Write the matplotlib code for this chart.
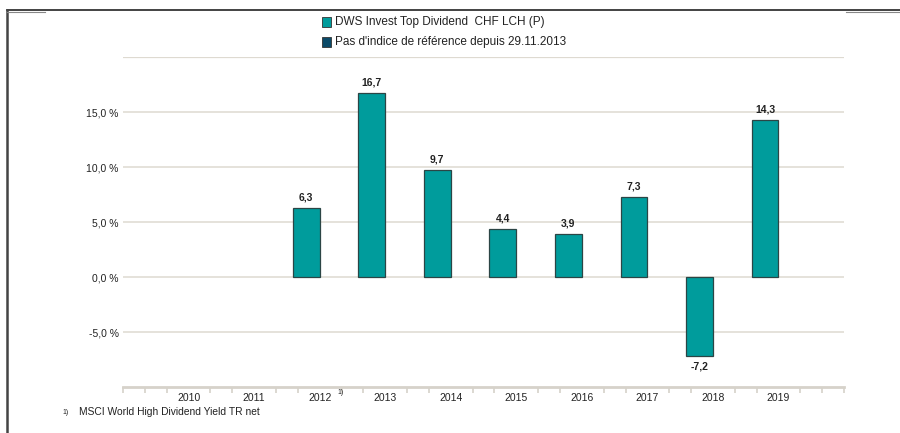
import numpy as np
import matplotlib.pyplot as plt
from matplotlib.patches import Rectangle
from matplotlib.lines import Line2D

plt.rcParams['font.family'] = ['Liberation Sans', 'DejaVu Sans']

years = ['2010', '2011', '2012', '2013', '2014', '2015', '2016', '2017', '2018', '2019']
fund = [np.nan, np.nan, 6.3, 16.7, 9.7, 4.4, 3.9, 7.3, -7.2, 14.3]
yticks = [-5, 0, 5, 10, 15]
gridlines = [-5, 0, 5, 10, 15, 20]
legend_labels = ['DWS Invest Top Dividend  CHF LCH (P)',
                 "Pas d'indice de référence depuis 29.11.2013"]
footnote = 'MSCI World High Dividend Yield TR net'

teal = '#009c9c'
navy = '#0b4a68'
grid_c = '#dedad1'

fig = plt.figure(figsize=(9, 4.33), dpi=100)
ax = fig.add_axes([0.1367, 0.1062, 0.8011, 0.7621])

x = np.arange(len(years))
for g in gridlines:
    ax.axhline(g, color=grid_c, lw=1.6 if g == 20 else 1.1, zorder=0)

bars = ax.bar(x - 0.205, fund, width=0.41, color=teal, edgecolor='#2b4545',
              linewidth=0.9, zorder=2)
for xi, v in zip(x, fund):
    if np.isnan(v):
        continue
    txt = ('%.1f' % v).replace('.', ',')
    ax.annotate(txt, (xi - 0.205, v), xytext=(0, 4 if v > 0 else -4),
                textcoords='offset points', ha='center',
                va='bottom' if v > 0 else 'top', fontsize=7.5,
                fontweight='bold', color='#222222')

ax.set_xlim(-1, 10)
ax.set_ylim(-10, 20)
ax.set_yticks(yticks)
ax.set_yticklabels([('%.1f %%' % t).replace('.', ',') for t in yticks])
ax.tick_params(axis='y', length=0, pad=3, labelsize=7.5, labelcolor='#222222')

ax.set_xticks(x)
ax.set_xticklabels(years)
minor = [k / 3 for k in range(-3, 31) if k % 3 != 0 or k in (-3, 30)]
ax.set_xticks(minor, minor=True)
ax.tick_params(axis='x', which='major', length=0, pad=4, labelsize=7.5,
               labelcolor='#222222')
ax.tick_params(axis='x', which='minor', length=4, width=1.2, color='#d6d2ca',
               direction='out')

for s in ['top', 'right', 'left']:
    ax.spines[s].set_visible(False)
ax.spines['bottom'].set_color('#d6d2ca')
ax.spines['bottom'].set_linewidth(2)

# superscript after 2012
ax.annotate('1)', (2, -10), xytext=(13, -4), textcoords='offset points',
            ha='left', va='center', fontsize=5, color='#222222')

# legend
for i, (lab, c) in enumerate(zip(legend_labels, [teal, navy])):
    yc = 1 - (22 + 20 * i) / 433
    fig.patches.append(Rectangle((322 / 900, yc - 4.5 / 433), 9 / 900, 9 / 433,
                                 transform=fig.transFigure, facecolor=c,
                                 edgecolor='#333333', linewidth=0.6))
    fig.text(335 / 900, yc, lab, ha='left', va='center', fontsize=8.5,
             color='#222222')

# footnote
fig.text(66 / 900, 1 - 412 / 433, '1)', ha='center', va='center', fontsize=5,
         color='#222222')
fig.text(79 / 900, 1 - 412 / 433, footnote, ha='left', va='center', fontsize=7.4,
         color='#222222')

# frame
ytop = 1 - 10 / 433
fig.lines.append(Line2D([7 / 900, 1], [ytop, ytop], transform=fig.transFigure,
                        color='#222222', lw=1.2))
fig.lines.append(Line2D([7 / 900, 7 / 900], [0, ytop], transform=fig.transFigure,
                        color='#444444', lw=1.8))
fig.lines.append(Line2D([7 / 900, 45 / 900], [ytop - 1.5 / 433, ytop - 1.5 / 433],
                        transform=fig.transFigure, color='#888888', lw=0.8))
fig.lines.append(Line2D([846 / 900, 1], [ytop - 1.5 / 433, ytop - 1.5 / 433],
                        transform=fig.transFigure, color='#888888', lw=0.8))

fig.savefig('out.png', dpi=100)
